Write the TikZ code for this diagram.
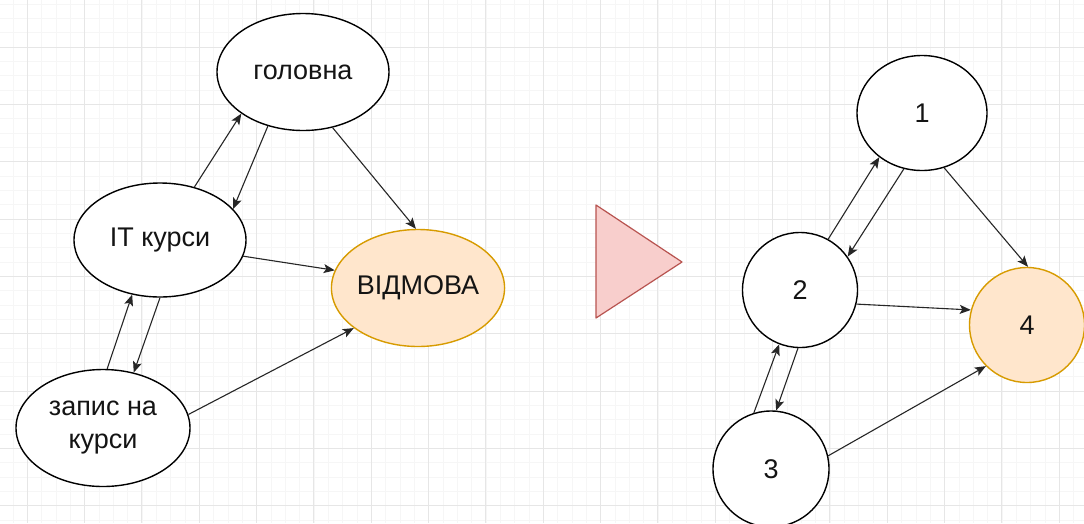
\documentclass[tikz,border=0pt]{standalone}
\usepackage{fontspec}
\setmainfont{Liberation Sans}
\usetikzlibrary{shapes.geometric,arrows.meta}

\definecolor{gridminor}{HTML}{F6F6F6}
\definecolor{gridmajor}{HTML}{E6E6E6}
\definecolor{orfill}{HTML}{FFE6CC}
\definecolor{orline}{HTML}{D79B00}
\definecolor{redfill}{HTML}{F8CECC}
\definecolor{redline}{HTML}{B85450}
\definecolor{ink}{HTML}{141414}

\tikzset{
  lbl/.style={font=\fontsize{27pt}{33pt}\selectfont, text=ink, align=center},
  ell/.style={ellipse, draw=black, line width=1.4pt, fill=white,
    minimum width=172pt, minimum height=117pt, inner sep=0pt, lbl},
  vtx/.style={ellipse, draw=black, line width=1.4pt, fill=white,
    minimum width=115pt, minimum height=115pt, inner sep=0pt, lbl},
  hot/.style={fill=orfill, draw=orline},
  link/.style={draw=black!85, line width=1.1pt,
    -{Stealth[length=11pt,width=9pt,inset=2.5pt]}},
}

\begin{document}
\begin{tikzpicture}[x=1pt,y=-1pt]
  \useasboundingbox (0,0) rectangle (1084,523);

  % background grid
  \begin{scope}
    \clip (0,0) rectangle (1084,523);
    \fill[white] (0,0) rectangle (1084,523);
    \foreach \i in {0,...,75} {
      \draw[gridminor, line width=0.8pt] ({12.97+\i*14.333},0) -- ({12.97+\i*14.333},523);
    }
    \foreach \j in {0,...,36} {
      \draw[gridminor, line width=0.8pt] (0,{4.0+\j*14.333}) -- (1084,{4.0+\j*14.333});
    }
    \foreach \i in {0,...,18} {
      \draw[gridmajor, line width=1pt] ({27.3+\i*57.333},0) -- ({27.3+\i*57.333},523);
    }
    \foreach \j in {0,...,9} {
      \draw[gridmajor, line width=1pt] (0,{-10.3+\j*57.333}) -- (1084,{-10.3+\j*57.333});
    }
  \end{scope}

  % left graph: pages of the site
  \node[ell] (home) at (303,72) {головна};
  \node[ell, minimum height=114pt] (it) at (160,240) {IT курси};
  \node[ell, hot] (deny) at (418,288) {ВІДМОВА};
  \node[ell, minimum width=174pt] (sign) at (103,428) {запис на\\курси};

  \draw[link] (it.57.4) -- (home.214.3);
  \draw[link] (home.237.9) -- (it.23.7);
  \draw[link] (home.298.1) -- (deny.92.8);
  \draw[link] (it.349.6) -- (deny.168.4);
  \draw[link] (it.270) -- (sign.61.1);
  \draw[link] (sign.86) -- (it.243.4);
  \draw[link] (sign.9.8) -- (deny.212.4);

  % transition marker
  \path[fill=redfill, draw=redline, line width=1.2pt, line join=round]
    (596,205) -- (682,262) -- (596,318) -- cycle;

  % right graph: numbered states
  \node[vtx, minimum width=130pt] (n1) at (922,113) {1};
  \node[vtx] (n2) at (800,290) {2};
  \node[vtx, minimum width=116pt, minimum height=116pt] (n3) at (771,469) {3};
  \node[vtx, hot] (n4) at (1027,325) {4};

  \draw[link] (n2.61) -- (n1.226.8);
  \draw[link] (n1.252.8) -- (n2.35.3);
  \draw[link] (n1.292) -- (n4.89);
  \draw[link] (n2.346.4) -- (n4.165);
  \draw[link] (n2.268) -- (n3.85.2);
  \draw[link] (n3.107.5) -- (n2.249.4);
  \draw[link] (n3.13.6) -- (n4.225);
\end{tikzpicture}
\end{document}
